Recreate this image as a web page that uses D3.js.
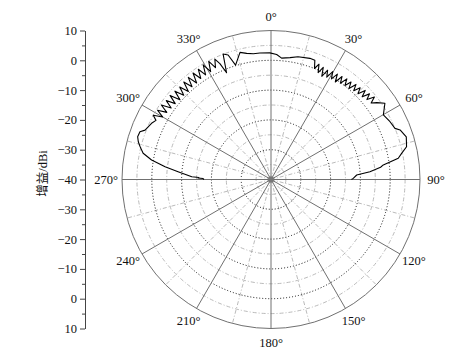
<!DOCTYPE html>
<html>
<head>
<meta charset="utf-8">
<script src="https://cdn.jsdelivr.net/npm/d3@7"></script>
<style>
  body { margin: 0; background: #fff; }
  svg { display: block; }
</style>
</head>
<body>
<svg id="chart" width="473" height="357"></svg>
<script>
// Data: measured gain pattern (angle in degrees, gain in dBi)
const angles = [
  270, 270.8, 271.2, 271.6, 272, 274.8, 276.9, 279.3, 281.6, 284.1, 285.9, 287.8, 290, 291.4, 292.4, 295.2, 297.2,
  298.6, 300, 301.4, 302.8, 304.2, 305.6, 307, 308.4, 309.8, 311.2, 312.6, 314, 315.4, 316.8, 318.2, 319.6,
  321, 322.4, 323.8, 325.2, 326.6, 328, 329.4, 330.8, 332.2, 333.6, 335, 336.2, 337.4, 339.1, 341, 342.8, 346.3,
  349.1, 352, 355, 359.5,
  362.6, 365, 368.9, 372.4, 377.8, 380.2,
  381.4, 382.6, 383.8, 385, 386.2, 387.4, 388.6, 389.8, 391, 392.2, 393.4, 394.6, 395.8, 397, 398.2, 399.4,
  400.6, 401.8, 403, 404.2, 405.4, 406.6, 407.8, 409, 410.2, 411.4, 412.6,
  414, 416.2, 420.1, 424.1, 427.6, 429, 432.5,
  436.4, 438.7, 440.5, 442.6, 443.6, 445.5, 447, 449.2, 450
];
const gains = [
  -17.5, -17.2, -15.5, -15.8, -13.4, -8.7, -4.2, 0.6, 3.8, 5.3, 6.3, 7.0, 6.8, 5.4, 5.1, 4.3, 3.4,
  5.0, 2.0, 4.6, 1.6, 4.5, 1.2, 4.0, 1.0, 4.1, 0.6, 3.8, 0.7, 3.6, 0.5, 3.9, 0.9,
  4.1, 0.9, 4.3, 1.3, 4.3, 1.4, 4.7, 1.5, 4.8, 1.9, 4.6, 2.5, -1.2, 5.1, 4.2, 0.2, 3.9,
  3.1, 2.6, 2.6, 2.5,
  2.0, 0.9, 1.4, 2.2, 2.7, 2.6,
  0.0, 1.9, -0.8, 1.5, -1.4, 1.3, -0.9, 1.7, -0.6, 1.8, -0.8, 2.0, -0.2, 2.3, 0.1, 2.3,
  0.2, 2.8, 0.7, 2.9, 1.0, 3.5, 1.3, 3.8, 1.9, 4.4, 2.3,
  3.9, 6.0, 3.5, 4.4, 5.0, 6.4, 7.6,
  6.8, 4.7, 3.3, -2.0, -3.0, -6.7, -11.2, -12.4, -13
];

// Axis values
const rTicks = [-40, -30, -20, -10, 0, 10];
const rMinor = [-35, -25, -15, -5, 5];
const spokes = d3.range(0, 360, 30);
const minorSpokes = d3.range(15, 360, 30);
const angleLabels = spokes.map(a => a + "°");
const axisTicksTop = [10, 0, -10, -20, -30, -40];
const axisTicksBottom = [-30, -20, -10, 0, 10];

const FONT = "'Liberation Serif', 'Times New Roman', serif";

const svg = d3.select("#chart");
const cx = 271, cy = 179.5, R = 149;

const rScale = d3.scaleLinear().domain([-40, 10]).range([0, R]);

const g = svg.append("g").attr("transform", `translate(${cx},${cy})`);

// minor circles (dash-dot, gray)
g.selectAll(".minor-circle").data(rMinor).join("circle")
  .attr("r", d => rScale(d))
  .attr("fill", "none")
  .attr("stroke", "#a8a8a8")
  .attr("stroke-width", 0.8)
  .attr("stroke-dasharray", "4,2,1,2");

// minor spokes
g.selectAll(".minor-spoke").data(minorSpokes).join("line")
  .attr("x1", 0).attr("y1", 0)
  .attr("x2", d => R * Math.sin(d * Math.PI / 180))
  .attr("y2", d => -R * Math.cos(d * Math.PI / 180))
  .attr("stroke", "#a8a8a8")
  .attr("stroke-width", 0.8)
  .attr("stroke-dasharray", "4,2,1,2");

// major circles (dotted, black)
g.selectAll(".major-circle").data(rTicks.slice(1, -1)).join("circle")
  .attr("r", d => rScale(d))
  .attr("fill", "none")
  .attr("stroke", "#111")
  .attr("stroke-width", 1)
  .attr("stroke-dasharray", "1,2");

// major spokes
g.selectAll(".spoke").data(spokes).join("line")
  .attr("x1", 0).attr("y1", 0)
  .attr("x2", d => R * Math.sin(d * Math.PI / 180))
  .attr("y2", d => -R * Math.cos(d * Math.PI / 180))
  .attr("stroke", "#707070")
  .attr("stroke-width", 1);

// outer circle
g.append("circle")
  .attr("r", rScale(10))
  .attr("fill", "none")
  .attr("stroke", "#707070")
  .attr("stroke-width", 1);

// center dot
g.append("circle").attr("r", 3).attr("fill", "#777");

// angle labels
g.selectAll(".alabel").data(spokes).join("text")
  .attr("x", d => (R + 16) * Math.sin(d * Math.PI / 180))
  .attr("y", d => -(R + 14) * Math.cos(d * Math.PI / 180))
  .attr("dy", "0.35em")
  .attr("text-anchor", "middle")
  .attr("font-size", 12.5)
  .attr("fill", "#111")
  .style("font-family", FONT)
  .text((d, i) => angleLabels[i]);

// gain curve
const line = d3.lineRadial()
  .angle((d, i) => angles[i] * Math.PI / 180)
  .radius((d, i) => rScale(gains[i]));

g.append("path")
  .datum(gains)
  .attr("d", line)
  .attr("fill", "none")
  .attr("stroke", "#000")
  .attr("stroke-width", 1.1)
  .attr("stroke-linejoin", "round");

// left radial axis (mirrored)
const axisX = 85;
const yTop = d3.scaleLinear().domain([10, -40]).range([cy - R, cy]);
const yBot = d3.scaleLinear().domain([-40, 10]).range([cy, cy + R]);
const fmt = d => d3.format("")(d).replace("-", "\u2212");

const axTop = svg.append("g").attr("transform", `translate(${axisX},0)`)
  .call(d3.axisLeft(yTop).tickValues(axisTicksTop).tickFormat(fmt).tickSize(5).tickSizeOuter(0));
const axBot = svg.append("g").attr("transform", `translate(${axisX},0)`)
  .call(d3.axisLeft(yBot).tickValues(axisTicksBottom).tickFormat(fmt).tickSize(5).tickSizeOuter(0));
svg.append("g").attr("transform", `translate(${axisX},0)`)
  .call(d3.axisLeft(yTop).tickValues(rMinor).tickFormat("").tickSize(3).tickSizeOuter(0))
  .call(a => a.select(".domain").remove());
svg.append("g").attr("transform", `translate(${axisX},0)`)
  .call(d3.axisLeft(yBot).tickValues(rMinor).tickFormat("").tickSize(3).tickSizeOuter(0))
  .call(a => a.select(".domain").remove());

svg.selectAll(".tick line").attr("stroke", "#444");
svg.selectAll(".domain").attr("stroke", "#444");
[axTop, axBot].forEach(a => a.selectAll("text")
  .attr("font-size", 12.5)
  .attr("fill", "#111")
  .style("font-family", FONT));

// y title
svg.append("text")
  .attr("transform", `translate(47,${cy - 6}) rotate(-90)`)
  .attr("text-anchor", "middle")
  .attr("font-size", 12.5)
  .attr("fill", "#111")
  .style("font-family", "'Liberation Serif', 'Noto Sans CJK SC', serif")
  .text("增益/dBi");
</script>
</body>
</html>
